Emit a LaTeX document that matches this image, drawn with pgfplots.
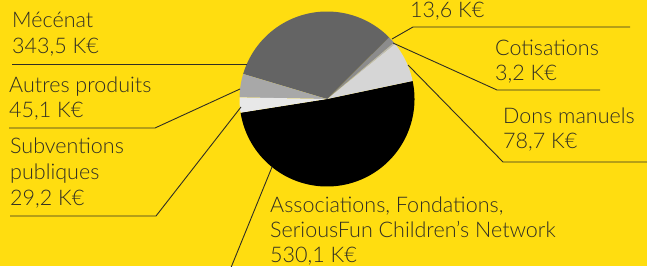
\documentclass[border=0pt]{standalone}
\usepackage{pgfplots}
\pgfplotsset{compat=1.18}
\usepackage{pgfplotstable}
\usepackage{fontspec}
\setmainfont{Lato Light}
\definecolor{bgyellow}{RGB}{255,221,16}
\definecolor{txt}{RGB}{48,46,36}
\definecolor{cAssoc}{RGB}{0,0,0}
\definecolor{cDons}{RGB}{214,214,214}
\definecolor{cCotis}{RGB}{185,185,185}
\definecolor{cAutre}{RGB}{140,140,140}
\definecolor{cMecenat}{RGB}{100,100,100}
\definecolor{cAutres}{RGB}{168,168,168}
\definecolor{cSubv}{RGB}{232,232,232}

\pgfplotstableread{
label value
Associations 530.1
Dons 78.7
Cotisations 3.2
Autre 13.6
Mecenat 343.5
AutresProduits 45.1
Subventions 29.2
}\piedata

\begin{document}
\begin{tikzpicture}[x=1bp,y=1bp]
\clip (0,0) rectangle (647,266);
\fill[bgyellow] (0,0) rectangle (647,266);
\def\getv#1#2{\pgfplotstablegetelem{#1}{value}\of\piedata\global\let#2\pgfplotsretval}
\getv{0}\vA \getv{1}\vB \getv{2}\vC \getv{3}\vD \getv{4}\vE \getv{5}\vF \getv{6}\vG
\pgfmathsetmacro\tot{\vA+\vB+\vC+\vD+\vE+\vF+\vG}
\pgfmathsetmacro\aA{189}
\pgfmathsetmacro\aB{\aA+360*(\vA/\tot)}
\pgfmathsetmacro\aC{\aB+360*(\vB/\tot)}
\pgfmathsetmacro\aD{\aC+360*(\vC/\tot)}
\pgfmathsetmacro\aE{\aD+360*(\vD/\tot)}
\pgfmathsetmacro\aF{\aE+360*(\vE/\tot)}
\pgfmathsetmacro\aG{\aF+360*(\vF/\tot)}
\pgfmathsetmacro\aH{\aG+360*(\vG/\tot)}
\def\cx{327}\def\cy{99}\def\r{87.5}
\begin{axis}[at={(0,0)}, anchor=south west, width=647bp, height=266bp, scale only axis,
  xmin=0, xmax=647, ymin=0, ymax=266, y dir=reverse, hide axis, clip=false]
\addplot[fill=cAssoc, draw=none, domain=\aA:\aB, samples=120] ({\cx+\r*cos(x)},{\cy-\r*sin(x)}) -- (axis cs:\cx,\cy) -- cycle;
\addplot[fill=cDons, draw=none, domain=\aB:\aC, samples=30] ({\cx+\r*cos(x)},{\cy-\r*sin(x)}) -- (axis cs:\cx,\cy) -- cycle;
\addplot[fill=cCotis, draw=none, domain=\aC:\aD, samples=5] ({\cx+\r*cos(x)},{\cy-\r*sin(x)}) -- (axis cs:\cx,\cy) -- cycle;
\addplot[fill=cAutre, draw=none, domain=\aD:\aE, samples=8] ({\cx+\r*cos(x)},{\cy-\r*sin(x)}) -- (axis cs:\cx,\cy) -- cycle;
\addplot[fill=cMecenat, draw=none, domain=\aE:\aF, samples=80] ({\cx+\r*cos(x)},{\cy-\r*sin(x)}) -- (axis cs:\cx,\cy) -- cycle;
\addplot[fill=cAutres, draw=none, domain=\aF:\aG, samples=15] ({\cx+\r*cos(x)},{\cy-\r*sin(x)}) -- (axis cs:\cx,\cy) -- cycle;
\addplot[fill=cSubv, draw=none, domain=\aG:\aH, samples=12] ({\cx+\r*cos(x)},{\cy-\r*sin(x)}) -- (axis cs:\cx,\cy) -- cycle;

% leader lines
\draw[txt, line width=0.9bp] (axis cs:392,39) -- (axis cs:413,27) -- (axis cs:630,27);
\draw[txt, line width=0.9bp] (axis cs:393,43) -- (axis cs:497,90) -- (axis cs:600,90);
\draw[txt, line width=0.9bp] (axis cs:408,65) -- (axis cs:503,162) -- (axis cs:647,162);
\draw[txt, line width=0.9bp] (axis cs:247,64) -- (axis cs:12,64);
\draw[txt, line width=0.9bp] (axis cs:240,89) -- (axis cs:155,128) -- (axis cs:9,128);
\draw[txt, line width=0.9bp] (axis cs:241,107) -- (axis cs:156,216) -- (axis cs:10,216);
\draw[txt, line width=0.9bp] (axis cs:272,167) -- (axis cs:230,270);

% labels
\tikzset{lab/.style={anchor=base west, inner sep=0pt, text=txt, font=\fontsize{21.6}{25}\selectfont}}
\node[lab] at (axis cs:410,18) {13,6 K€};
\node[lab] at (axis cs:495,55) {Cotisations};
\node[lab] at (axis cs:495,80) {3,2 K€};
\node[lab] at (axis cs:503,123) {Dons manuels};
\node[lab] at (axis cs:503,148) {78,7 K€};
\node[lab] at (axis cs:12,28) {Mécénat};
\node[lab] at (axis cs:12,53) {343,5 K€};
\node[lab] at (axis cs:9,92) {Autres produits};
\node[lab] at (axis cs:9,117) {45,1 K€};
\node[lab] at (axis cs:10,153) {Subventions};
\node[lab] at (axis cs:10,179) {publiques};
\node[lab] at (axis cs:10,205) {29,2 K€};
\node[lab] at (axis cs:270,212) {Associations, Fondations,};
\node[lab] at (axis cs:270,237) {SeriousFun Children’s Network};
\node[lab] at (axis cs:270,262) {530,1 K€};
\end{axis}
\end{tikzpicture}
\end{document}
